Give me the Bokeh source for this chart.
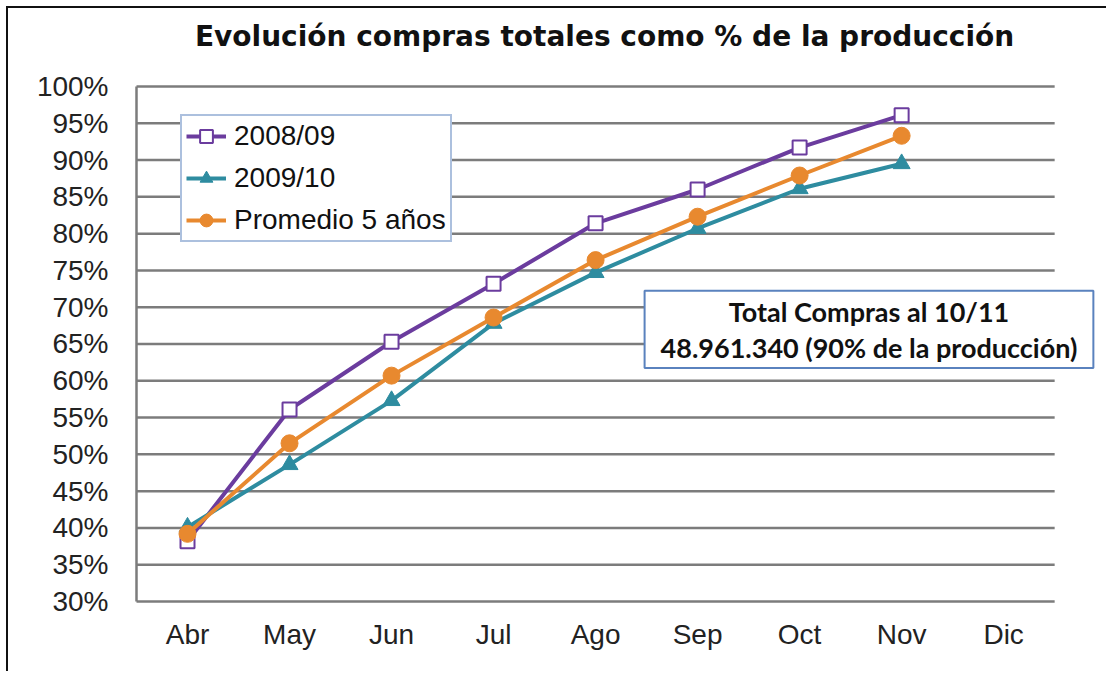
from bokeh.plotting import figure
from bokeh.models import Range1d, FixedTicker, Label, Legend
from bokeh.embed import file_html
from bokeh.resources import INLINE

months = ["Abr", "May", "Jun", "Jul", "Ago", "Sep", "Oct", "Nov", "Dic"]
data_months = ["Abr", "May", "Jun", "Jul", "Ago", "Sep", "Oct", "Nov"]
s_2008 = [38.2, 56.1, 65.3, 73.2, 81.4, 86.0, 91.7, 96.1]
s_2009 = [40.1, 48.6, 57.3, 67.8, 74.7, 80.7, 86.1, 89.5]
s_prom = [39.2, 51.5, 60.7, 68.6, 76.4, 82.3, 87.9, 93.3]
y_ticks = [30, 35, 40, 45, 50, 55, 60, 65, 70, 75, 80, 85, 90, 95, 100]
y_tick_labels = ["30%", "35%", "40%", "45%", "50%", "55%", "60%", "65%",
                 "70%", "75%", "80%", "85%", "90%", "95%", "100%"]
title_text = "Evolución compras totales como % de la producción"
note_text = "Total Compras al 10/11\n48.961.340 (90% de la producción)"

PURPLE = "#6B3C9E"
TEAL = "#2E8CA0"
ORANGE = "#E8892F"
BOXBLUE = "#5A82BE"
GRID = "#7C7C7C"

# category positions on a numeric axis (category i centred at i + 0.5)
x_pos = {m: i + 0.5 for i, m in enumerate(months)}
n_cat = len(months)
xd = [x_pos[m] for m in data_months]
y_min, y_max = y_ticks[0], y_ticks[-1]

p = figure(width=1100, height=665, x_range=Range1d(-0.0196, 9.42),
           y_range=Range1d(29.73, 109.51),
           output_backend="svg", toolbar_location=None,
           min_border_left=126, min_border_right=11, min_border_top=8, min_border_bottom=70)
p.styles = {"border-left": "2px solid #111", "border-top": "2px solid #111",
            "margin-left": "6px", "margin-top": "6px"}

p.outline_line_color = None
p.xgrid.grid_line_color = None
p.ygrid.grid_line_color = None

# horizontal gridlines spanning the category area only
p.segment(x0=[0] * len(y_ticks), x1=[n_cat] * len(y_ticks), y0=y_ticks, y1=y_ticks,
          line_color=GRID, line_width=2.5)
# value axis line
p.segment(x0=[0], x1=[0], y0=[y_min], y1=[y_max], line_color=GRID, line_width=2.5)

p.yaxis.ticker = FixedTicker(ticks=y_ticks)
p.yaxis.major_label_overrides = {t: l for t, l in zip(y_ticks, y_tick_labels)}
p.xaxis.ticker = FixedTicker(ticks=list(x_pos.values()))
p.xaxis.major_label_overrides = {v: k for k, v in x_pos.items()}

for ax in (p.xaxis[0], p.yaxis[0]):
    ax.axis_line_color = None
    ax.major_tick_line_color = None
    ax.minor_tick_line_color = None
    ax.major_tick_out = 0
    ax.major_tick_in = 0
    ax.major_label_text_font = "Liberation Sans"
    ax.major_label_text_font_size = "28px"
    ax.major_label_text_color = "#222222"
p.yaxis.major_label_standoff = 26
p.xaxis.major_label_standoff = 15

l1 = p.line(xd, s_2008, line_color=PURPLE, line_width=4)
m1 = p.scatter(xd, s_2008, marker="square", size=14, fill_color="white",
               line_color=PURPLE, line_width=2)
l2 = p.line(xd, s_2009, line_color=TEAL, line_width=4)
m2 = p.scatter(xd, s_2009, marker="triangle", size=17, fill_color=TEAL,
               line_color=TEAL)
l3 = p.line(xd, s_prom, line_color=ORANGE, line_width=4)
m3 = p.scatter(xd, s_prom, marker="circle", size=17, fill_color=ORANGE,
               line_color=ORANGE)

title = Label(x=4.588, y=106.8, text=title_text, text_align="center",
              text_baseline="alphabetic", text_font="DejaVu Sans", text_font_style="bold",
              text_font_size="28px", text_color="#111111")
p.add_layout(title)

legend = Legend(items=[("2008/09", [l1, m1]), ("2009/10", [l2, m2]),
                       ("Promedio 5 años", [l3, m3])],
                location=(46, 361))
legend.border_line_color = BOXBLUE
legend.border_line_width = 2
legend.background_fill_color = "white"
legend.background_fill_alpha = 1
legend.label_text_font = "Liberation Sans"
legend.label_text_font_size = "28px"
legend.label_text_color = "#111111"
legend.glyph_width = 40
legend.glyph_height = 32
legend.label_height = 32
legend.spacing = 10
legend.padding = 4
legend.margin = 0
legend.label_standoff = 8
p.add_layout(legend, "center")

note = Label(x=7.18, y=67.0, text=note_text, text_align="center", text_baseline="middle",
             text_font="Lato", text_font_style="bold", text_font_size="27px",
             text_color="#111111", text_line_height=1.1,
             border_line_color=BOXBLUE, border_line_width=2,
             background_fill_color="white", padding=(16, 4))
p.add_layout(note)

open("out.html", "w").write(file_html(p, INLINE))
